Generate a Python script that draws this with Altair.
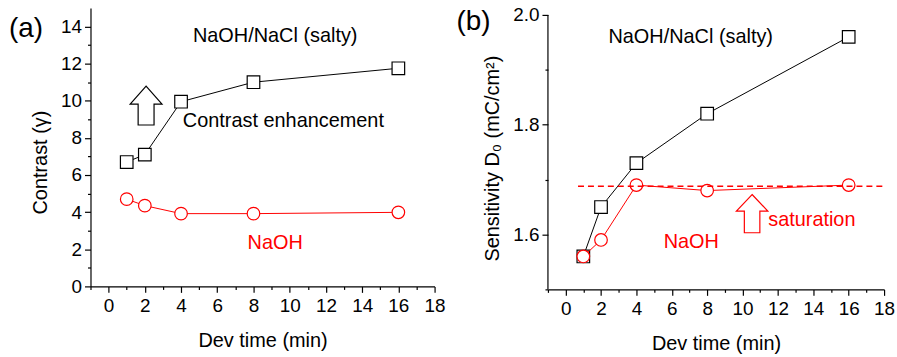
import altair as alt
import pandas as pd

# ---------------- data ----------------
dev_time = [1, 2, 4, 8, 16]
contrast_salty = [6.7, 7.1, 9.95, 11.0, 11.75]
contrast_naoh = [4.7, 4.35, 3.92, 3.92, 3.99]
sens_salty = [1.56, 1.65, 1.73, 1.82, 1.96]
sens_naoh = [1.56, 1.59, 1.69, 1.68, 1.69]
saturation_level = [1.688, 1.688]
saturation_span = [0.7, 18.0]

x_ticks = list(range(-1, 19))
y_ticks_a = list(range(0, 15))
y_ticks_b = [1.5, 1.6, 1.7, 1.8, 1.9, 2.0]
y_axis_b_line = [1.5, 2.0]

# annotation texts (text, x, y)
ann_a_black = [("NaOH/NaCl (salty)", 9.2, 13.47)]
ann_a_left = [("Contrast enhancement", 4.1, 8.9)]
ann_a_red = [("NaOH", 9.2, 2.36)]
ann_b_black = [("NaOH/NaCl (salty)", 7.07, 1.959)]
ann_b_red = [("NaOH", 7.1, 1.5855)]
ann_b_red_left = [("saturation", 11.45, 1.626)]
arrow_a = [(2.07, 9.74)]
arrow_b = [(10.54, 1.638)]

FONT = "Liberation Sans"
RED = "#ff0000"
ARROW_A = "M 0 -0.975 L 0.8 -0.075 L 0.4 -0.075 L 0.4 0.975 L -0.4 0.975 L -0.4 -0.075 L -0.8 -0.075 Z"
ARROW_B = "M 0 -0.96 L 0.79 -0.13 L 0.39 -0.13 L 0.39 0.96 L -0.39 0.96 L -0.39 -0.13 L -0.79 -0.13 Z"


def txt_df(items):
    return pd.DataFrame({"t": [i[0] for i in items], "x": [i[1] for i in items], "y": [i[2] for i in items]})


def panel(y_salty, y_naoh, y_domain, y_ticks, y_title, y_label_expr, y_fmt, y_tick_test,
          width, height, texts, arrow, arrow_path, arrow_color, panel_label, label_pos, title_y,
          y_domain_line=True, extra_layers=()):
    xs = alt.Scale(domain=[-1, 18], nice=False, zero=False)
    ys = alt.Scale(domain=y_domain, nice=False, zero=False)
    x_axis = alt.Axis(values=x_ticks, tickCount=100, format="d",
                      labelExpr="datum.value % 2 == 0 && datum.value >= 0 ? datum.label : ''",
                      tickSize={"condition": {"test": "datum.value % 2 == 0", "value": 6}, "value": 3},
                      labelOverlap=False, labelFlush=False,
                      title="Dev time (min)", grid=False, labelPadding=4, titlePadding=15)
    y_axis = alt.Axis(values=y_ticks, tickCount=100, labelExpr=y_label_expr, format=y_fmt,
                      tickSize={"condition": {"test": y_tick_test, "value": 6}, "value": 3},
                      labelOverlap=False, labelFlush=False, domain=y_domain_line,
                      title=y_title, grid=False, labelPadding=3, titlePadding=10, titleY=title_y)

    df_s = pd.DataFrame({"x": dev_time, "y": y_salty})
    df_n = pd.DataFrame({"x": dev_time, "y": y_naoh})

    base_s = alt.Chart(df_s)
    line_s = base_s.mark_line(color="black", strokeWidth=1).encode(
        x=alt.X("x:Q", scale=xs, axis=x_axis), y=alt.Y("y:Q", scale=ys, axis=y_axis))
    pts_s = base_s.mark_point(shape="square", filled=True, fill="white", stroke="black",
                              strokeWidth=1.2, size=160, opacity=1).encode(
        x=alt.X("x:Q", scale=xs), y=alt.Y("y:Q", scale=ys))
    base_n = alt.Chart(df_n)
    line_n = base_n.mark_line(color=RED, strokeWidth=1).encode(
        x=alt.X("x:Q", scale=xs), y=alt.Y("y:Q", scale=ys))
    pts_n = base_n.mark_point(shape="circle", filled=True, fill="white", stroke=RED,
                              strokeWidth=1.2, size=160, opacity=1).encode(
        x=alt.X("x:Q", scale=xs), y=alt.Y("y:Q", scale=ys))

    layers = [line_s, pts_s, line_n, pts_n]
    for items, color, align in texts:
        layers.append(alt.Chart(txt_df(items)).mark_text(font=FONT, fontSize=20, color=color, align=align,
                                                         baseline="middle").encode(
            x=alt.X("x:Q", scale=xs), y=alt.Y("y:Q", scale=ys), text="t:N"))
    adf = pd.DataFrame({"x": [a[0] for a in arrow], "y": [a[1] for a in arrow]})
    layers.append(alt.Chart(adf).mark_point(shape=arrow_path, filled=True, fill="white", stroke=arrow_color,
                                            strokeWidth=1.2, size=1600, opacity=1).encode(
        x=alt.X("x:Q", scale=xs), y=alt.Y("y:Q", scale=ys)))
    for mk in extra_layers:
        layers.append(mk(xs, ys))
    ldf = pd.DataFrame({"label": [panel_label]})
    layers.append(alt.Chart(ldf).mark_text(font=FONT, fontSize=28, color="black", align="left",
                                           baseline="middle").encode(
        x=alt.value(label_pos[0]), y=alt.value(label_pos[1]), text="label:N"))
    return alt.layer(*layers).properties(width=width, height=height)


def saturation_line(xs, ys):
    df = pd.DataFrame({"x": saturation_span, "y": saturation_level})
    return alt.Chart(df).mark_line(color=RED, strokeWidth=1.6, strokeDash=[6, 4]).encode(
        x=alt.X("x:Q", scale=xs), y=alt.Y("y:Q", scale=ys))


def axis_line_b(xs, ys):
    df = pd.DataFrame({"y": [y_axis_b_line[0]], "y2": [y_axis_b_line[1]]})
    return alt.Chart(df).mark_rule(color="black", strokeWidth=1.2).encode(
        x=alt.value(0), y=alt.Y("y:Q", scale=ys), y2="y2:Q")


pa = panel(contrast_salty, contrast_naoh, [0, 15], y_ticks_a, "Contrast (γ)",
           "datum.value % 2 == 0 ? datum.label : ''", "d", "datum.value % 2 == 0",
           346, 280,
           [(ann_a_black, "black", "center"), (ann_a_left, "black", "left"), (ann_a_red, RED, "center")],
           arrow_a, ARROW_A, "black", "(a)", (-82, 21), 155)

# panel (b) spans a few pixels above 2.0 so that its top sits lower than panel (a)'s
pb = panel(sens_salty, sens_naoh, [1.5, 2.0127], y_ticks_b, "Sensitivity D₀ (mC/cm²)",
           "abs(round(datum.value * 10)) % 2 == 0 ? datum.label : ''", ".1f",
           "abs(round(datum.value * 10)) % 2 == 0",
           338, 283,
           [(ann_b_black, "black", "center"), (ann_b_red, RED, "center"), (ann_b_red_left, RED, "left")],
           arrow_b, ARROW_B, RED, "(b)", (-92, 14), 151,
           y_domain_line=False, extra_layers=(saturation_line, axis_line_b))

chart = alt.hconcat(pa, pb, spacing=11).properties(
    padding={"left": 9, "top": 5, "right": 2, "bottom": 2}
).configure_view(stroke=None).configure_axis(
    domainColor="black", tickColor="black", labelColor="black", titleColor="black",
    domainWidth=1.2, tickWidth=1.2, labelFont=FONT, titleFont=FONT,
    labelFontSize=19, titleFontSize=20, titleFontWeight="normal"
)

chart.save("out.html", embed_options={"renderer": "svg", "actions": False})
